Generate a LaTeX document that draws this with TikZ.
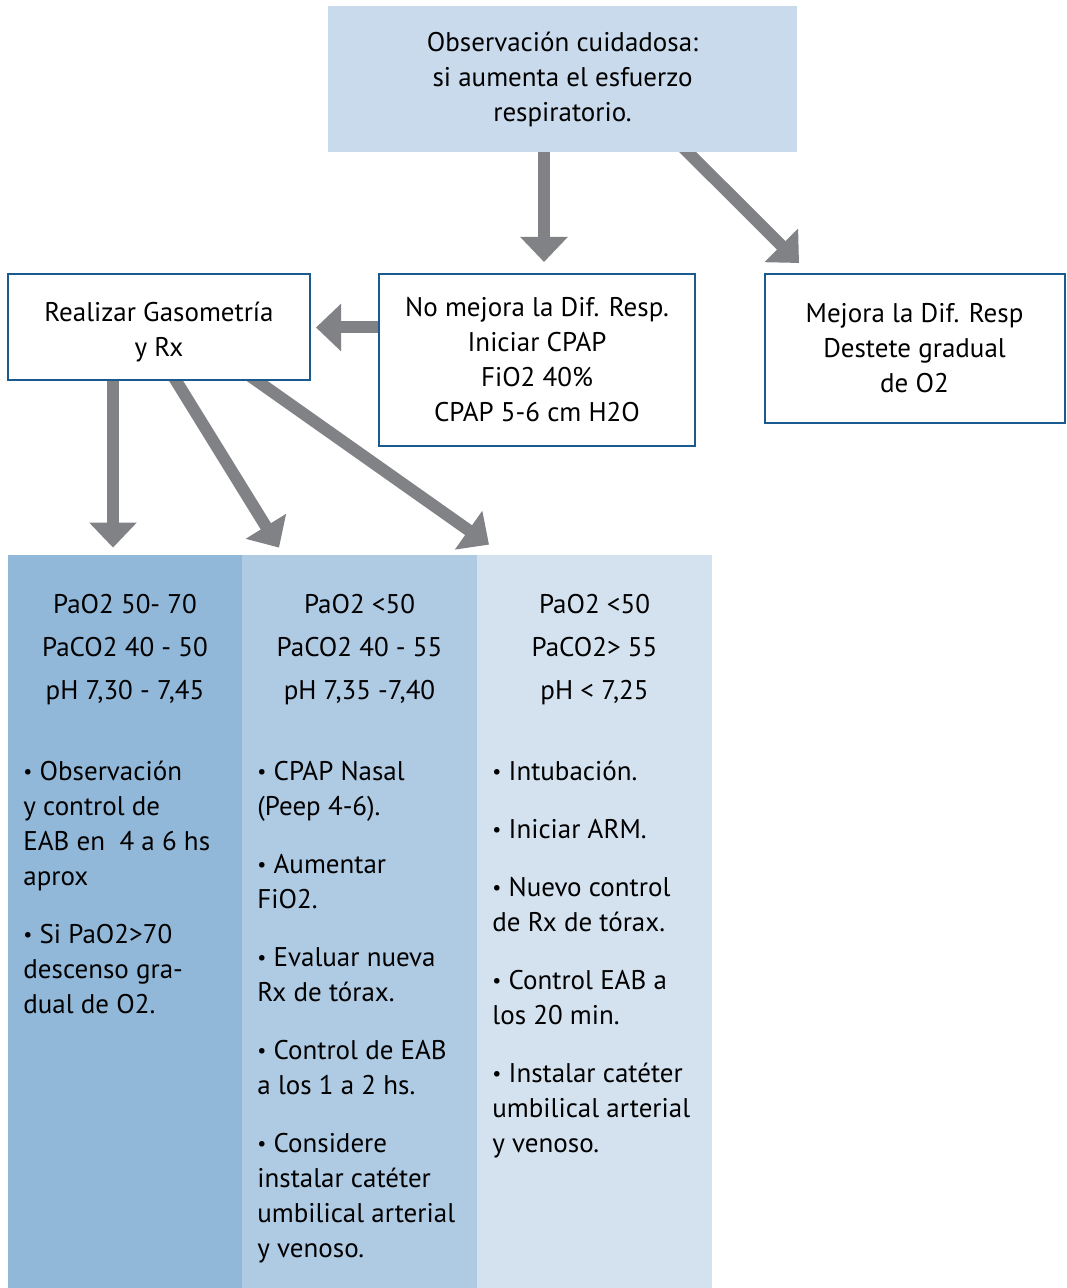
\documentclass[tikz,border=0pt]{standalone}
\usepackage{fontspec}
\setmainfont{PT Sans}
\usepackage{tikz}
\usetikzlibrary{arrows.meta}

\definecolor{topblue}{HTML}{C8DAEB}
\definecolor{lineblue}{HTML}{1A5A8F}
\definecolor{arrowgray}{HTML}{808285}
\definecolor{colA}{HTML}{92B8D9}
\definecolor{colB}{HTML}{AFCAE3}
\definecolor{colC}{HTML}{D4E2EF}

\pgfdeclarelayer{bg}
\pgfsetlayers{bg,main}

\newcommand{\flowfont}{\fontsize{13.5}{17.5}\selectfont}
\newcommand{\bul}{\raisebox{0.9pt}{\fontsize{10}{10}\selectfont•}}

\begin{document}
\begin{tikzpicture}[
    x=0.5pt, y=-0.5pt,
    >={Triangle[width=23pt,length=12.5pt]},
    topbox/.style={
        rectangle,
        fill=topblue,
        inner sep=0pt,
        minimum width=234.5pt,
        minimum height=73pt,
        align=center,
        font=\flowfont
    },
    box/.style={
        draw=lineblue,
        line width=1pt,
        rectangle,
        fill=white,
        inner sep=0pt,
        align=center,
        font=\flowfont
    },
    column/.style={
        rectangle,
        inner sep=0pt,
        minimum height=366.5pt
    },
    head/.style={
        align=center,
        inner sep=0pt,
        font=\fontsize{13.5}{21.5}\selectfont
    },
    body/.style={
        anchor=north west,
        align=left,
        inner sep=0pt,
        font=\flowfont
    },
    bigarrow/.style={
        draw=arrowgray,
        fill=arrowgray,
        line width=6pt,
        ->
    }
]
    \useasboundingbox (0,0) rectangle (1066,1288);

    % Nodes
    \node[topbox] (obs) at (562.5,79)
    {Observación cuidadosa:\\si aumenta el esfuerzo\\respiratorio.};

    \node[box, minimum width=158pt, minimum height=86pt] (nomejora) at (537,360)
    {No mejora la Dif. Resp.\\Iniciar CPAP\\FiO2 40\%\\CPAP 5-6 cm H2O};

    \node[box, minimum width=151pt, minimum height=53pt] (gaso) at (159,327)
    {\rule{0pt}{15pt}Realizar Gasometría\\y Rx};

    \node[box, minimum width=150pt, minimum height=74.5pt] (mejora) at (914.5,348.5)
    {Mejora la Dif. Resp\\Destete gradual\\de O2};

    % Columns
    \node[column, fill=colA, minimum width=117pt] (colA) at (125,921.5) {};
    \node[column, fill=colB, minimum width=117.5pt] (colB) at (359.5,921.5) {};
    \node[column, fill=colC, minimum width=117.5pt] (colC) at (594.5,921.5) {};

    \node[head] (headA) at (125,650) {PaO2 50- 70\\PaCO2 40 - 50\\pH 7,30 - 7,45};
    \node[head] (headB) at (359.5,650) {PaO2 <50\\PaCO2 40 - 55\\pH 7,35 -7,40};
    \node[head] (headC) at (594.5,650) {PaO2 <50\\PaCO2> 55\\pH < 7,25};

    \node[body] (bodyA) at (23,755.5)
    {\strut\bul\ Observación\\y control de\\EAB en\ \ 4 a 6 hs\\aprox\\[11.5pt]
     \bul\ Si PaO2>70\\descenso gra-\\dual de O2.};

    \node[body] (bodyB) at (257,755.5)
    {\strut\bul\ CPAP Nasal\\(Peep 4-6).\\[11.5pt]
     \bul\ Aumentar\\FiO2.\\[11.5pt]
     \bul\ Evaluar nueva\\Rx de tórax.\\[11.5pt]
     \bul\ Control de EAB\\a los 1 a 2 hs.\\[11.5pt]
     \bul\ Considere\\instalar catéter\\umbilical arterial\\y venoso.};

    \node[body] (bodyC) at (492,755.5)
    {\strut\bul\ Intubación.\\[11.5pt]
     \bul\ Iniciar ARM.\\[11.5pt]
     \bul\ Nuevo control\\de Rx de tórax.\\[11.5pt]
     \bul\ Control EAB a\\los 20 min.\\[11.5pt]
     \bul\ Instalar catéter\\umbilical arterial\\y venoso.};

    % Arrows
    \begin{pgfonlayer}{bg}
    \draw[bigarrow] ([shift={(-18.5,-10)}]obs.south) -- ([shift={(7,-11)}]nomejora.north);
    \draw[bigarrow] ([shift={(115.5,-10)}]obs.south) -- ([shift={(35.5,-10)}]mejora.north west);
    \draw[bigarrow] ([shift={(10,-32.5)}]nomejora.west) -- ([shift={(5,0.5)}]gaso.east);
    \draw[bigarrow] ([shift={(-46,-10)}]gaso.south) -- ([shift={(-12,-7)}]colA.north);
    \draw[bigarrow] ([shift={(11,-10)}]gaso.south) -- ([shift={(-80.5,-7)}]colB.north);
    \draw[bigarrow] ([shift={(84,-10)}]gaso.south) -- ([shift={(-105.5,-10)}]colC.north);
    \end{pgfonlayer}

\end{tikzpicture}
\end{document}
